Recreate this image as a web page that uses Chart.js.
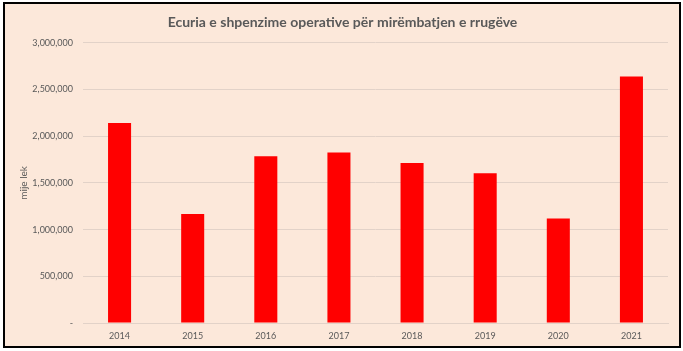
<!DOCTYPE html>
<html>
<head>
<meta charset="utf-8">
<script src="https://cdn.jsdelivr.net/npm/chart.js@4"></script>
<style>
  body { margin: 0; background: #fff; }
  #frame {
    position: absolute; left: 3px; top: 2px;
    width: 678px; height: 346px;
    box-sizing: border-box;
    border: 2px solid #000;
    background: #FCE8DA;
  }
  #chart { display: block; }
</style>
</head>
<body>
<div id="frame"><canvas id="chart" width="674" height="342"></canvas></div>
<script>
// years on the x axis
const years = ["2014", "2015", "2016", "2017", "2018", "2019", "2020", "2021"];
// operating expenses for road maintenance, in thousand lek
const expenses = [2140000, 1168000, 1786000, 1825000, 1714000, 1604000, 1118000, 2639000];

const chartTitle = "Ecuria e shpenzime operative për mirëmbatjen e rrugëve";
const yTitle = "mije lek";

const fontFamily = "Lato, 'Open Sans', sans-serif";
const textColor = "#595959";

const formatTick = (value) => (value === 0 ? "-" : value.toLocaleString("en-US"));

new Chart(document.getElementById("chart"), {
  type: "bar",
  data: {
    labels: years,
    datasets: [
      {
        label: yTitle,
        data: expenses,
        backgroundColor: "#FF0000",
        borderWidth: 0,
        categoryPercentage: 1,
        barPercentage: 0.315,
      },
    ],
  },
  options: {
    responsive: false,
    animation: false,
    layout: {
      padding: { left: 12, right: 11, top: 4, bottom: 0 },
    },
    scales: {
      y: {
        min: 0,
        max: 3000000,
        afterFit: (scale) => { scale.width = 66; },
        ticks: {
          stepSize: 500000,
          callback: formatTick,
          color: textColor,
          font: { family: fontFamily, size: 9 },
          padding: 10,
        },
        grid: { color: "#E2D2C8", drawTicks: false },
        border: { display: false },
        title: {
          display: true,
          text: yTitle,
          color: textColor,
          font: { family: fontFamily, size: 10 },
          padding: { top: 1, bottom: 1 },
        },
      },
      x: {
        afterFit: (scale) => { scale.height = 23; },
        ticks: {
          color: textColor,
          font: { family: fontFamily, size: 9 },
          padding: 8,
        },
        grid: { display: false, drawTicks: false },
        border: { color: "#E2D2C8" },
      },
    },
    plugins: {
      legend: { display: false },
      tooltip: { enabled: false },
      title: {
        display: true,
        text: chartTitle,
        color: textColor,
        font: { family: fontFamily, size: 14, weight: "bold" },
        padding: { top: 6, bottom: 12 },
      },
    },
  },
});
</script>
</body>
</html>
